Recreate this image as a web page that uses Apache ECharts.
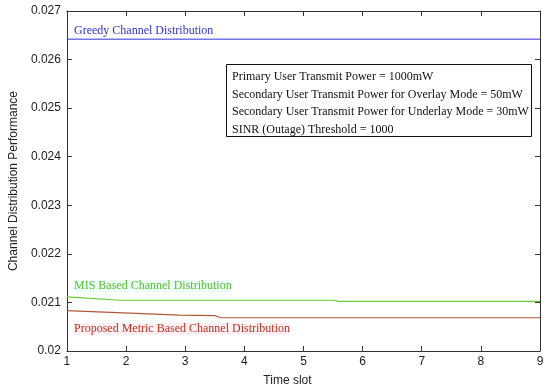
<!DOCTYPE html>
<html>
<head>
<meta charset="utf-8">
<script src="https://cdn.jsdelivr.net/npm/echarts@6/dist/echarts.min.js"></script>
<style>html,body{margin:0;padding:0;background:#fff}#c{width:550px;height:392px}</style>
</head>
<body>
<div id="c"></div>
<script>
// Data
const xTicks = [1, 2, 3, 4, 5, 6, 7, 8, 9];
const yTicks = [0.020, 0.021, 0.022, 0.023, 0.024, 0.025, 0.026, 0.027];
const greedyX = [1, 9];
const greedyY = [0.02642, 0.02642];
const misX = [1, 1.9, 5.5, 5.6, 9];
const misY = [0.021115, 0.021045, 0.021045, 0.02102, 0.02102];
const propX = [1, 2.9, 3.5, 3.6, 9];
const propY = [0.02083, 0.02074, 0.02073, 0.020685, 0.020685];
const seriesNames = ['Greedy Channel Distribution', 'MIS Based Channel Distribution', 'Proposed Metric Based Channel Distribution'];
const noteLines = [
  'Primary User Transmit Power = 1000mW',
  'Secondary User Transmit Power for Overlay Mode = 50mW',
  'Secondary User Transmit Power for Underlay Mode = 30mW',
  'SINR (Outage) Threshold = 1000'
];

const pair = (xs, ys) => xs.map((x, i) => [x, ys[i]]);
const chart = echarts.init(document.getElementById('c'));
const axisCol = '#333';
const sans = 'Liberation Sans';

chart.setOption({
  animation: false,
  grid: { left: 63, right: 10, top: 11, bottom: 40 },
  xAxis: [{
    type: 'value', min: 1, max: 9, interval: 1,
    name: 'Time slot', nameLocation: 'middle', nameGap: 24,
    nameTextStyle: { fontFamily: sans, fontSize: 12, color: '#222', padding: [0, 32, 0, 0] },
    axisLine: { lineStyle: { color: axisCol, width: 1 } },
    axisTick: { inside: true, length: 5, lineStyle: { color: axisCol } },
    axisLabel: { fontFamily: sans, fontSize: 12, color: '#222', margin: 5 },
    splitLine: { show: false }
  }, {
    type: 'value', min: 1, max: 9, interval: 1, position: 'top',
    axisLine: { lineStyle: { color: axisCol, width: 1 } },
    axisTick: { inside: true, length: 5, lineStyle: { color: axisCol } },
    axisLabel: { show: false }, splitLine: { show: false }
  }],
  yAxis: [{
    type: 'value', min: 0.02, max: 0.027, interval: 0.001,
    name: 'Channel Distribution Performance', nameLocation: 'middle', nameGap: 42,
    nameTextStyle: { fontFamily: sans, fontSize: 12, color: '#222' },
    axisLine: { show: true, lineStyle: { color: axisCol, width: 1 } },
    axisTick: { show: true, inside: true, length: 5, lineStyle: { color: axisCol } },
    axisLabel: { fontFamily: sans, fontSize: 12, color: '#222', margin: 6,
      formatter: v => String(+v.toFixed(3)) },
    splitLine: { show: false }
  }, {
    type: 'value', min: 0.02, max: 0.027, interval: 0.001, position: 'right',
    axisLine: { show: true, lineStyle: { color: axisCol, width: 1 } },
    axisTick: { show: true, inside: true, length: 5, lineStyle: { color: axisCol } },
    axisLabel: { show: false }, splitLine: { show: false }
  }],
  series: [
    { name: seriesNames[0], type: 'line', data: pair(greedyX, greedyY), symbol: 'none',
      lineStyle: { color: '#3030d8', width: 1 } },
    { name: seriesNames[1], type: 'line', data: pair(misX, misY), symbol: 'none',
      lineStyle: { color: '#66cc33', width: 1.2 } },
    { name: seriesNames[2], type: 'line', data: pair(propX, propY), symbol: 'none',
      lineStyle: { color: '#b0583a', width: 1.2 } }
  ],
  graphic: [
    { type: 'text', left: 74, top: 25, style: { text: seriesNames[0], fill: '#3030d8', font: '12px "Liberation Serif"' } },
    { type: 'text', left: 74, top: 280, style: { text: seriesNames[1], fill: '#55c030', font: '12px "Liberation Serif"', backgroundColor: '#eefffa' } },
    { type: 'text', left: 74, top: 323, style: { text: seriesNames[2], fill: '#c03020', font: '12px "Liberation Serif"', backgroundColor: '#fff0f4' } },
    { type: 'rect', shape: { x: 226.5, y: 64.5, width: 305, height: 72 }, style: { fill: '#fff', stroke: '#111', lineWidth: 1 } },
    { type: 'text', left: 232, top: 68, style: { text: noteLines.join('\n'), fill: '#111', font: '12px "Liberation Serif"', lineHeight: 17.7 } }
  ]
});
</script>
</body>
</html>
